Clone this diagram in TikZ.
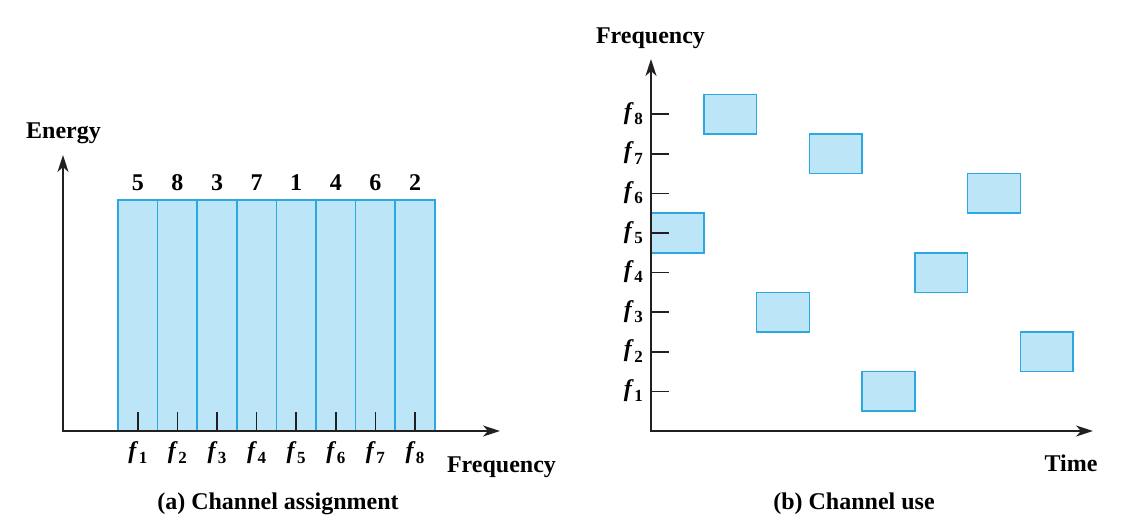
\documentclass[tikz,border=0pt]{standalone}
\usepackage{fontspec}
\setmainfont{Liberation Serif}
\usetikzlibrary{arrows.meta}
\definecolor{boxfill}{HTML}{BDE5F8}
\definecolor{boxline}{HTML}{2AA8DF}
\definecolor{axcol}{HTML}{231F20}
\newcommand{\fq}[1]{\textbf{\textit{f}}\kern0.5pt\raisebox{-0.22em}{\fontsize{17}{17}\selectfont\bfseries #1}}
\begin{document}
\begin{tikzpicture}[x=1pt,y=-1pt,
  axis/.style={draw=axcol, line width=1.8pt, {Stealth[length=17pt,width=11pt,inset=5pt]}-{Stealth[length=17pt,width=11pt,inset=5pt]}},
  chan/.style={draw=boxline, fill=boxfill, line width=1.5pt, inner sep=0pt, outer sep=0pt, minimum width=39.6pt, minimum height=231pt, anchor=south west},
  slot/.style={draw=boxline, fill=boxfill, line width=1.5pt, inner sep=0pt, outer sep=0pt, minimum width=52.75pt, minimum height=39.6pt, anchor=west},
  tk/.style={draw=axcol, line width=1.6pt},
  lbl/.style={font=\fontsize{24}{28}\selectfont\bfseries, inner sep=0pt, anchor=base},
  flbl/.style={font=\fontsize{24}{28}\selectfont, inner sep=0pt}
]
\useasboundingbox (0,0) rectangle (1124,525);
% ---------- (a) channel assignment ----------
\foreach \n [count=\i] in {5,8,3,7,1,4,6,2}{
  \node[chan] (b\i) at ({118+(\i-1)*39.6},431) {};
  \node[lbl] (n\i) at ({137.8+(\i-1)*39.6},190) {\n};
  \coordinate (u\i) at ({137.8+(\i-1)*39.6},431);
  \coordinate (t\i) at ({137.8+(\i-1)*39.6},412);
  \node[flbl, anchor=base] (fl\i) at ({137.8+(\i-1)*39.6},458) {\fq{\i}};
}
\foreach \i in {1,...,8}{\draw[tk] (u\i) -- (t\i);}
\coordinate (Lo) at (63,431);
\coordinate (Ly) at (63,155);
\coordinate (Lx) at (500,431);
\draw[axis] (Ly) -- (Lo) -- (Lx);
\node[lbl] (energy) at (63.5,138) {Energy};
\node[lbl] (freqa) at (501.5,472) {Frequency};
\node[lbl] (capa) at (278,509) {(a) Channel assignment};
% ---------- (b) channel use ----------
\foreach \f [count=\k] in {5,8,3,7,1,4,6,2}{
  \node[slot] (s\k) at ({651+(\k-1)*52.75},{431-39.6*\f}) {};
}
\foreach \f in {1,...,8}{
  \coordinate (ya\f) at (651,{431-39.6*\f});
  \coordinate (yb\f) at (669,{431-39.6*\f});
  \draw[tk] (ya\f) -- (yb\f);
  \node[flbl, anchor=base east] (rl\f) at (643,{436-39.6*\f}) {\fq{\f}};
}
\coordinate (Ro) at (651,431);
\coordinate (Ry) at (651,59);
\coordinate (Rx) at (1093,431);
\draw[axis] (Ry) -- (Ro) -- (Rx);
\node[lbl] (freqb) at (650.5,43) {Frequency};
\node[lbl] (time) at (1071,471) {Time};
\node[lbl] (capb) at (854,509) {(b) Channel use};
\end{tikzpicture}
\end{document}
